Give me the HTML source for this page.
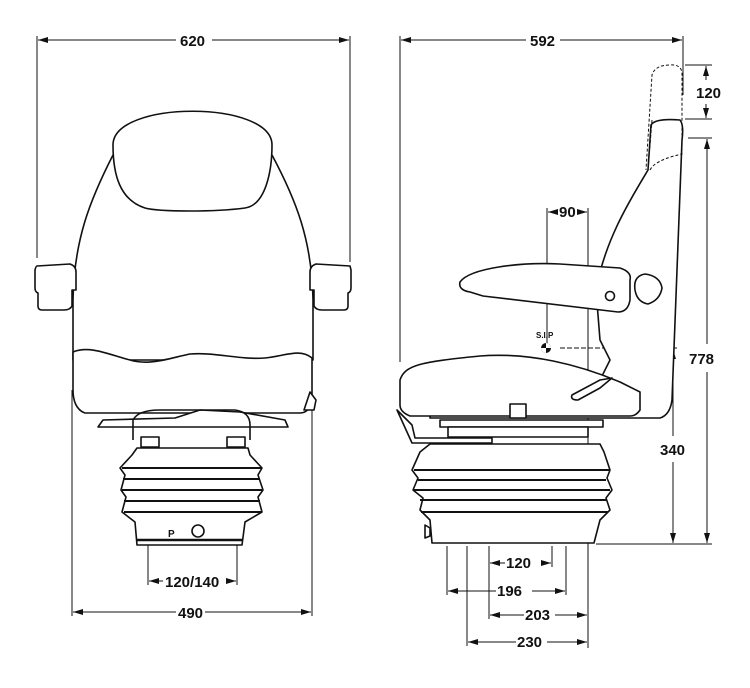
<!DOCTYPE html>
<html><head><meta charset="utf-8"><style>
html,body{margin:0;padding:0;background:#fff}
svg{display:block}
text{font-family:"Liberation Sans",sans-serif;font-weight:bold;font-size:15px;fill:#111}
</style></head><body>
<svg width="750" height="688" viewBox="0 0 750 688" xmlns="http://www.w3.org/2000/svg">
<defs>
<marker id="a" viewBox="0 0 10 6" refX="10" refY="3" markerWidth="10" markerHeight="6" orient="auto-start-reverse"><path d="M0,0L10,3L0,6z" fill="#111"/></marker>
</defs>
<g stroke="#111" fill="none" stroke-width="1">
<!-- LEFT dims -->
<line x1="37" y1="36" x2="37" y2="258"/><line x1="350" y1="36" x2="350" y2="262"/>
<line x1="38" y1="40" x2="176" y2="40" marker-start="url(#a)"/><line x1="212" y1="40" x2="349" y2="40" marker-end="url(#a)"/>
<line x1="72" y1="390" x2="72" y2="616"/><line x1="312" y1="396" x2="312" y2="616"/>
<line x1="73" y1="612" x2="176" y2="612" marker-start="url(#a)"/><line x1="205" y1="612" x2="311" y2="612" marker-end="url(#a)"/>
<line x1="148" y1="545" x2="148" y2="585"/><line x1="237" y1="545" x2="237" y2="585"/>
<line x1="149" y1="581" x2="163" y2="581" marker-start="url(#a)"/><line x1="226" y1="581" x2="236" y2="581" marker-end="url(#a)"/>
<!-- RIGHT dims -->
<line x1="400" y1="36" x2="400" y2="362"/><line x1="683" y1="36" x2="683" y2="95"/>
<line x1="401" y1="40" x2="526" y2="40" marker-start="url(#a)"/><line x1="560" y1="40" x2="682" y2="40" marker-end="url(#a)"/>
<line x1="685" y1="65" x2="712" y2="65"/><line x1="685" y1="119" x2="712" y2="119"/>
<line x1="706" y1="66" x2="706" y2="80" marker-start="url(#a)"/><line x1="706" y1="104" x2="706" y2="118" marker-end="url(#a)"/>
<line x1="688" y1="138" x2="712" y2="138"/><line x1="596" y1="544" x2="712" y2="544"/>
<line x1="707" y1="139" x2="707" y2="344" marker-start="url(#a)"/><line x1="707" y1="372" x2="707" y2="543" marker-end="url(#a)"/>
<line x1="560" y1="348" x2="678" y2="348" stroke-dasharray="5,2"/>
<line x1="673" y1="349" x2="673" y2="436" marker-start="url(#a)"/><line x1="673" y1="462" x2="673" y2="543" marker-end="url(#a)"/>
<line x1="547" y1="208" x2="547" y2="345"/><line x1="588" y1="208" x2="588" y2="648"/>
<line x1="548" y1="212" x2="557" y2="212" marker-start="url(#a)"/><line x1="579" y1="212" x2="587" y2="212" marker-end="url(#a)"/>
<line x1="447" y1="546" x2="447" y2="595"/><line x1="467" y1="546" x2="467" y2="646"/>
<line x1="489" y1="546" x2="489" y2="619"/><line x1="552" y1="546" x2="552" y2="567"/>
<line x1="566" y1="546" x2="566" y2="595"/>
<line x1="490" y1="563" x2="505" y2="563" marker-start="url(#a)"/><line x1="541" y1="563" x2="551" y2="563" marker-end="url(#a)"/>
<line x1="448" y1="591" x2="496" y2="591" marker-start="url(#a)"/><line x1="532" y1="591" x2="565" y2="591" marker-end="url(#a)"/>
<line x1="490" y1="615" x2="524" y2="615" marker-start="url(#a)"/><line x1="555" y1="615" x2="587" y2="615" marker-end="url(#a)"/>
<line x1="468" y1="642" x2="516" y2="642" marker-start="url(#a)"/><line x1="547" y1="642" x2="587" y2="642" marker-end="url(#a)"/>
</g>
<g>
<text x="180" y="46">620</text><text x="530" y="46">592</text>
<text x="178" y="618">490</text><text x="165" y="587">120/140</text>
<text x="696" y="98">120</text><text x="689" y="364">778</text><text x="660" y="455">340</text>
<text x="559" y="217">90</text>
<text x="506" y="568">120</text><text x="497" y="596">196</text>
<text x="525" y="620">203</text><text x="517" y="647">230</text>
<text x="536" y="338" style="font-size:8px">S.I.P</text>
</g>
<g stroke="#111" fill="#fff" stroke-width="1.6" stroke-linejoin="round">
<!-- LEFT SEAT -->
<path d="M113,155 C90,200 74,240 73,300 L73,360 L313,360 L313,300 C312,240 296,200 272,155 Z"/>
<path d="M113,145 C113,100 272,100 272,145 C272,170 266,205 245,208 C215,212 160,212 145,208 C120,200 113,175 113,145 Z"/>
<path d="M73,352 C90,345 110,355 130,360 C150,366 170,358 190,354 C215,352 240,360 265,358 C285,356 300,348 312,358 L312,400 C310,410 305,413 300,413 L85,413 C76,410 73,400 73,390 Z"/>
<path d="M37,266 L70,264 Q76,266 76,272 L76,290 L72,290 L72,306 Q70,310 64,310 L42,310 Q38,310 38,306 L38,293 Q35,292 35,288 L35,270 Q36,266 37,266 Z"/>
<path d="M350,266 L316,264 Q310,266 310,272 L310,290 L314,290 L314,306 Q316,310 322,310 L344,310 Q348,310 348,306 L348,293 Q351,292 351,288 L351,270 Q350,266 350,266 Z"/>
<path d="M98,427 L103,420 L175,418 L200,410 L240,412 L285,420 L288,427 Z"/>
<path d="M133,440 L133,420 Q138,410 160,410 L235,410 Q250,412 250,425 L250,440" fill="none"/>
<rect x="141" y="437" width="18" height="10"/><rect x="227" y="437" width="18" height="10"/>
<path d="M137,448 L248,448 L250,455 L262,468 L258,475 L263,490 L258,497 L262,512 L245,522 L242,545 L137,545 L135,522 L122,512 L126,497 L121,490 L125,475 L120,468 L132,455 Z"/>
<g fill="none" stroke-width="2"><line x1="122" y1="468" x2="262" y2="468"/><line x1="123" y1="479" x2="260" y2="479"/><line x1="122" y1="490" x2="262" y2="490"/><line x1="124" y1="501" x2="260" y2="501"/><line x1="124" y1="512" x2="262" y2="512"/></g>
<line x1="137" y1="540" x2="242" y2="540" stroke-width="2.5"/>
<circle cx="198" cy="531" r="6"/>
<text x="168" y="537" style="font-size:10px" stroke="none">P</text>
<path d="M304,410 L310,392 L316,400 L314,410 Z"/>
<!-- RIGHT SEAT -->
<path d="M651,125 Q655,118 680,120 Q684,125 682,140 L672,400 Q670,415 660,418 L430,418 L430,380 L600,380 L610,360 L600,340 L596,290 C605,240 630,200 648,170 Z"/>
<path d="M400,380 C405,365 420,362 480,356 C530,352 580,365 620,382 L640,392 L640,410 Q636,416 630,416 L410,416 Q400,412 400,405 Z"/>
<path d="M460,282 C470,268 520,262 560,264 L620,268 Q632,272 630,280 L630,300 Q628,312 618,312 L483,296 L470,292 Q458,290 460,282 Z"/>
<path d="M635,290 Q633,276 645,274 Q660,276 662,288 Q660,300 648,304 Q637,302 635,290 Z"/>
<circle cx="610" cy="296" r="4.5"/>
<path d="M572,395 L600,380 L612,378 L600,388 L578,400 Q570,400 572,395 Z"/>
<rect x="510" y="404" width="16" height="14"/>
<rect x="440" y="420" width="163" height="7"/><rect x="448" y="427" width="140" height="10"/>
<path d="M397,410 L412,425 L415,438 L492,438 L492,443 L412,443 Z"/>
<path d="M430,444 L600,444 L604,452 L610,470 L607,478 L612,490 L606,498 L610,510 L600,520 L594,543 L432,543 L430,520 L420,510 L423,498 L413,490 L418,478 L412,470 L420,452 Z"/>
<g fill="none" stroke-width="2"><line x1="414" y1="470" x2="610" y2="470"/><line x1="418" y1="480" x2="606" y2="480"/><line x1="414" y1="490" x2="610" y2="490"/><line x1="420" y1="500" x2="606" y2="500"/><line x1="421" y1="512" x2="608" y2="512"/></g>
<path d="M425,525 L430,528 L430,536 L425,538 Z"/>
<circle cx="546" cy="348" r="5" fill="#111" stroke="none"/>
<path d="M546,343 A5,5 0 0 1 551,348 L546,348Z M546,353 A5,5 0 0 1 541,348 L546,348Z" fill="#fff" stroke="none"/>
</g>
<path d="M652,120 L648,170 M650,170 Q655,160 682,154 L682,72 Q680,64 670,65 Q655,65 652,75 L646,170" fill="none" stroke="#111" stroke-width="1" stroke-dasharray="3,2"/>
</svg>
</body></html>
